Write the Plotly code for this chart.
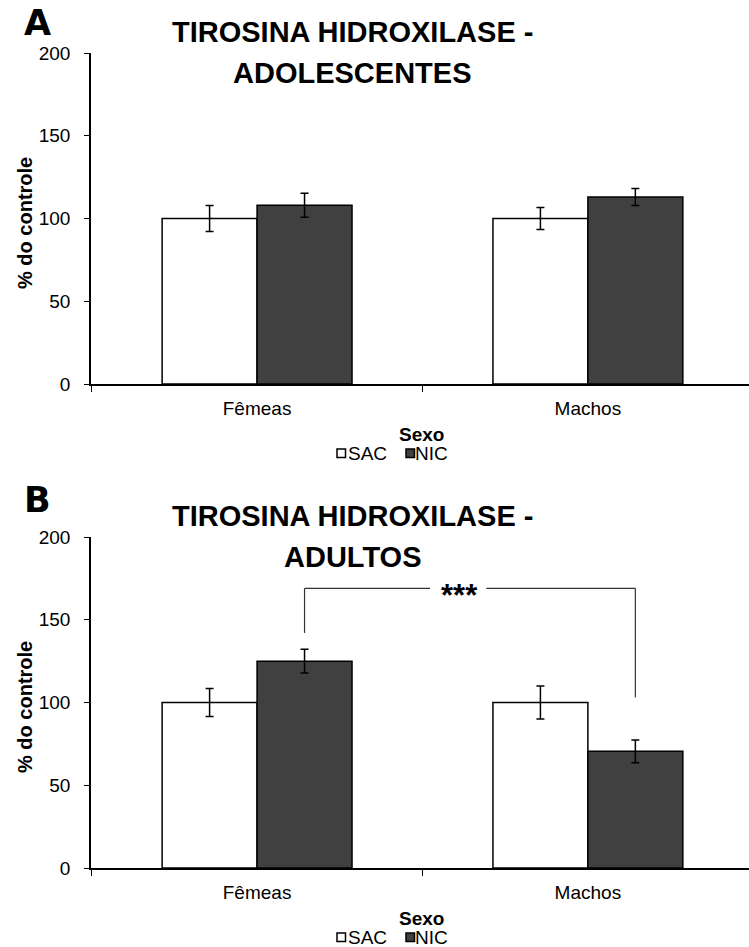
import plotly.graph_objects as go

# Data: tyrosine hydroxylase (% of control) by sex and treatment
categories = ["Fêmeas", "Machos"]
groups = ["SAC", "NIC"]

adolescentes_sac = [100, 100]
adolescentes_sac_err = [7.8, 6.6]
adolescentes_nic = [108, 113]
adolescentes_nic_err = [7.3, 5.1]

adultos_sac = [100, 100]
adultos_sac_err = [8.5, 9.9]
adultos_nic = [125, 70.5]
adultos_nic_err = [7.1, 6.9]

y_ticks = [0, 50, 100, 150, 200]

# significance bracket (panel B): NIC Fêmeas vs NIC Machos
bracket_top = 169
bracket_left_end = 142
bracket_right_end = 103
signif_label = "***"

W, H = 749, 947
FONT = "Liberation Sans, Arial, sans-serif"
SAC_FILL = "#ffffff"
NIC_FILL = "#404040"
BARGAP = 0.426


def px(x):
    return x / W


def py(y):
    return 1 - y / H


fig = go.Figure()

panels = [
    ("x", "y", adolescentes_sac, adolescentes_sac_err, adolescentes_nic, adolescentes_nic_err),
    ("x2", "y2", adultos_sac, adultos_sac_err, adultos_nic, adultos_nic_err),
]

for xa, ya, sac, sac_err, nic, nic_err in panels:
    for name, vals, errs, fill in [(groups[0], sac, sac_err, SAC_FILL),
                                   (groups[1], nic, nic_err, NIC_FILL)]:
        fig.add_trace(go.Bar(
            x=categories, y=vals, name=name, xaxis=xa, yaxis=ya,
            marker=dict(color=fill, line=dict(color="#000000", width=1.5)),
            error_y=dict(type="data", array=errs, visible=True,
                         color="#000000", thickness=1.5, width=4),
            showlegend=False,
        ))

# plot areas in pixels: (top, bottom)
areas = {"A": (53, 384), "B": (537, 868)}
x_dom = [px(91), 1.0]

axis_common = dict(
    showgrid=False, zeroline=False, showline=True, linecolor="#000000",
    ticks="outside", tickcolor="#000000", automargin=False,
    tickfont=dict(family=FONT, size=19, color="#000000"),
)

for suffix, key in [("", "A"), ("2", "B")]:
    top, bottom = areas[key]
    fig.update_layout(**{
        "xaxis" + suffix: dict(
            axis_common, domain=x_dom, anchor="y" + suffix,
            type="category", range=[-0.502, 1.487],
            tickson="boundaries", ticklen=6, linewidth=2,
            ticklabelstandoff=6,
        ),
        "yaxis" + suffix: dict(
            axis_common, domain=[py(bottom), py(top)], anchor="x" + suffix,
            range=[0, 200], tickvals=y_ticks, ticklen=5, linewidth=1.5,
            ticklabelstandoff=10,
        ),
    })

annotations = []
shapes = []

titles = {"A": "ADOLESCENTES", "B": "ADULTOS"}
offsets = {"A": 0, "B": 484}
letters_y = {"A": 23, "B": 500}

for key in ["A", "B"]:
    off = offsets[key]
    # panel title (two lines)
    annotations.append(dict(
        text="<b>TIROSINA HIDROXILASE -</b>", x=px(352), y=py(32 + off),
        xref="paper", yref="paper", showarrow=False,
        xanchor="center", yanchor="middle",
        font=dict(family=FONT, size=29, color="#000000"),
    ))
    annotations.append(dict(
        text="<b>" + titles[key] + "</b>", x=px(352), y=py(73 + off),
        xref="paper", yref="paper", showarrow=False,
        xanchor="center", yanchor="middle",
        font=dict(family=FONT, size=29, color="#000000"),
    ))
    # panel letter
    annotations.append(dict(
        text="<b>" + key + "</b>", x=px(37), y=py(letters_y[key]),
        xref="paper", yref="paper", showarrow=False,
        xanchor="center", yanchor="middle",
        font=dict(family="DejaVu Sans, sans-serif", size=35, color="#000000"),
    ))
    # y-axis title
    annotations.append(dict(
        text="<b>% do controle</b>", x=px(25), y=py(223 + off),
        xref="paper", yref="paper", showarrow=False, textangle=-90,
        xanchor="center", yanchor="middle",
        font=dict(family=FONT, size=20, color="#000000"),
    ))
    # legend: title and entries
    annotations.append(dict(
        text="<b>Sexo</b>", x=px(421), y=py(434.5 + off),
        xref="paper", yref="paper", showarrow=False,
        height=17, borderpad=0,
        xanchor="center", yanchor="middle",
        font=dict(family=FONT, size=19, color="#000000"),
    ))
    for name, sq_x0, txt_x, fill in [(groups[0], 337, 347, SAC_FILL),
                                     (groups[1], 406, 414, NIC_FILL)]:
        shapes.append(dict(
            type="rect", xref="paper", yref="paper",
            x0=px(sq_x0), x1=px(sq_x0 + 8.5),
            y0=py(457.5 + off), y1=py(449 + off),
            fillcolor=fill, line=dict(color="#000000", width=1.5),
        ))
        annotations.append(dict(
            text=name, x=px(txt_x), y=py(453 + off),
            xref="paper", yref="paper", showarrow=False,
            height=17, borderpad=0,
            xanchor="left", yanchor="middle",
            font=dict(family=FONT, size=19, color="#000000"),
        ))

# significance bracket drawn on the data axes of panel B
bar_w = (1 - BARGAP) / 2
nic_left = 0 + bar_w / 2
nic_right = 1 + bar_w / 2
gap_l, gap_r = 0.523, 0.693
line_style = dict(color="#333333", width=1.2)
for x0, y0, x1, y1 in [
    (nic_left, bracket_left_end, nic_left, bracket_top),
    (nic_left, bracket_top, gap_l, bracket_top),
    (gap_r, bracket_top, nic_right, bracket_top),
    (nic_right, bracket_top, nic_right, bracket_right_end),
]:
    shapes.append(dict(type="line", xref="x2", yref="y2",
                       x0=x0, y0=y0, x1=x1, y1=y1, line=line_style))

annotations.append(dict(
    text="<b>" + signif_label + "</b>", x=0.611, y=bracket_top,
    xref="x2", yref="y2", showarrow=False,
    xanchor="center", yanchor="middle", yshift=-7,
    font=dict(family=FONT, size=31, color="#000000"),
))

fig.update_layout(
    width=W, height=H,
    margin=dict(l=0, r=0, t=0, b=0, autoexpand=False),
    paper_bgcolor="#ffffff", plot_bgcolor="#ffffff",
    barmode="group", bargap=BARGAP, bargroupgap=0,
    showlegend=False,
    annotations=annotations, shapes=shapes,
    font=dict(family=FONT, color="#000000"),
)

fig.write_html("out.html")
